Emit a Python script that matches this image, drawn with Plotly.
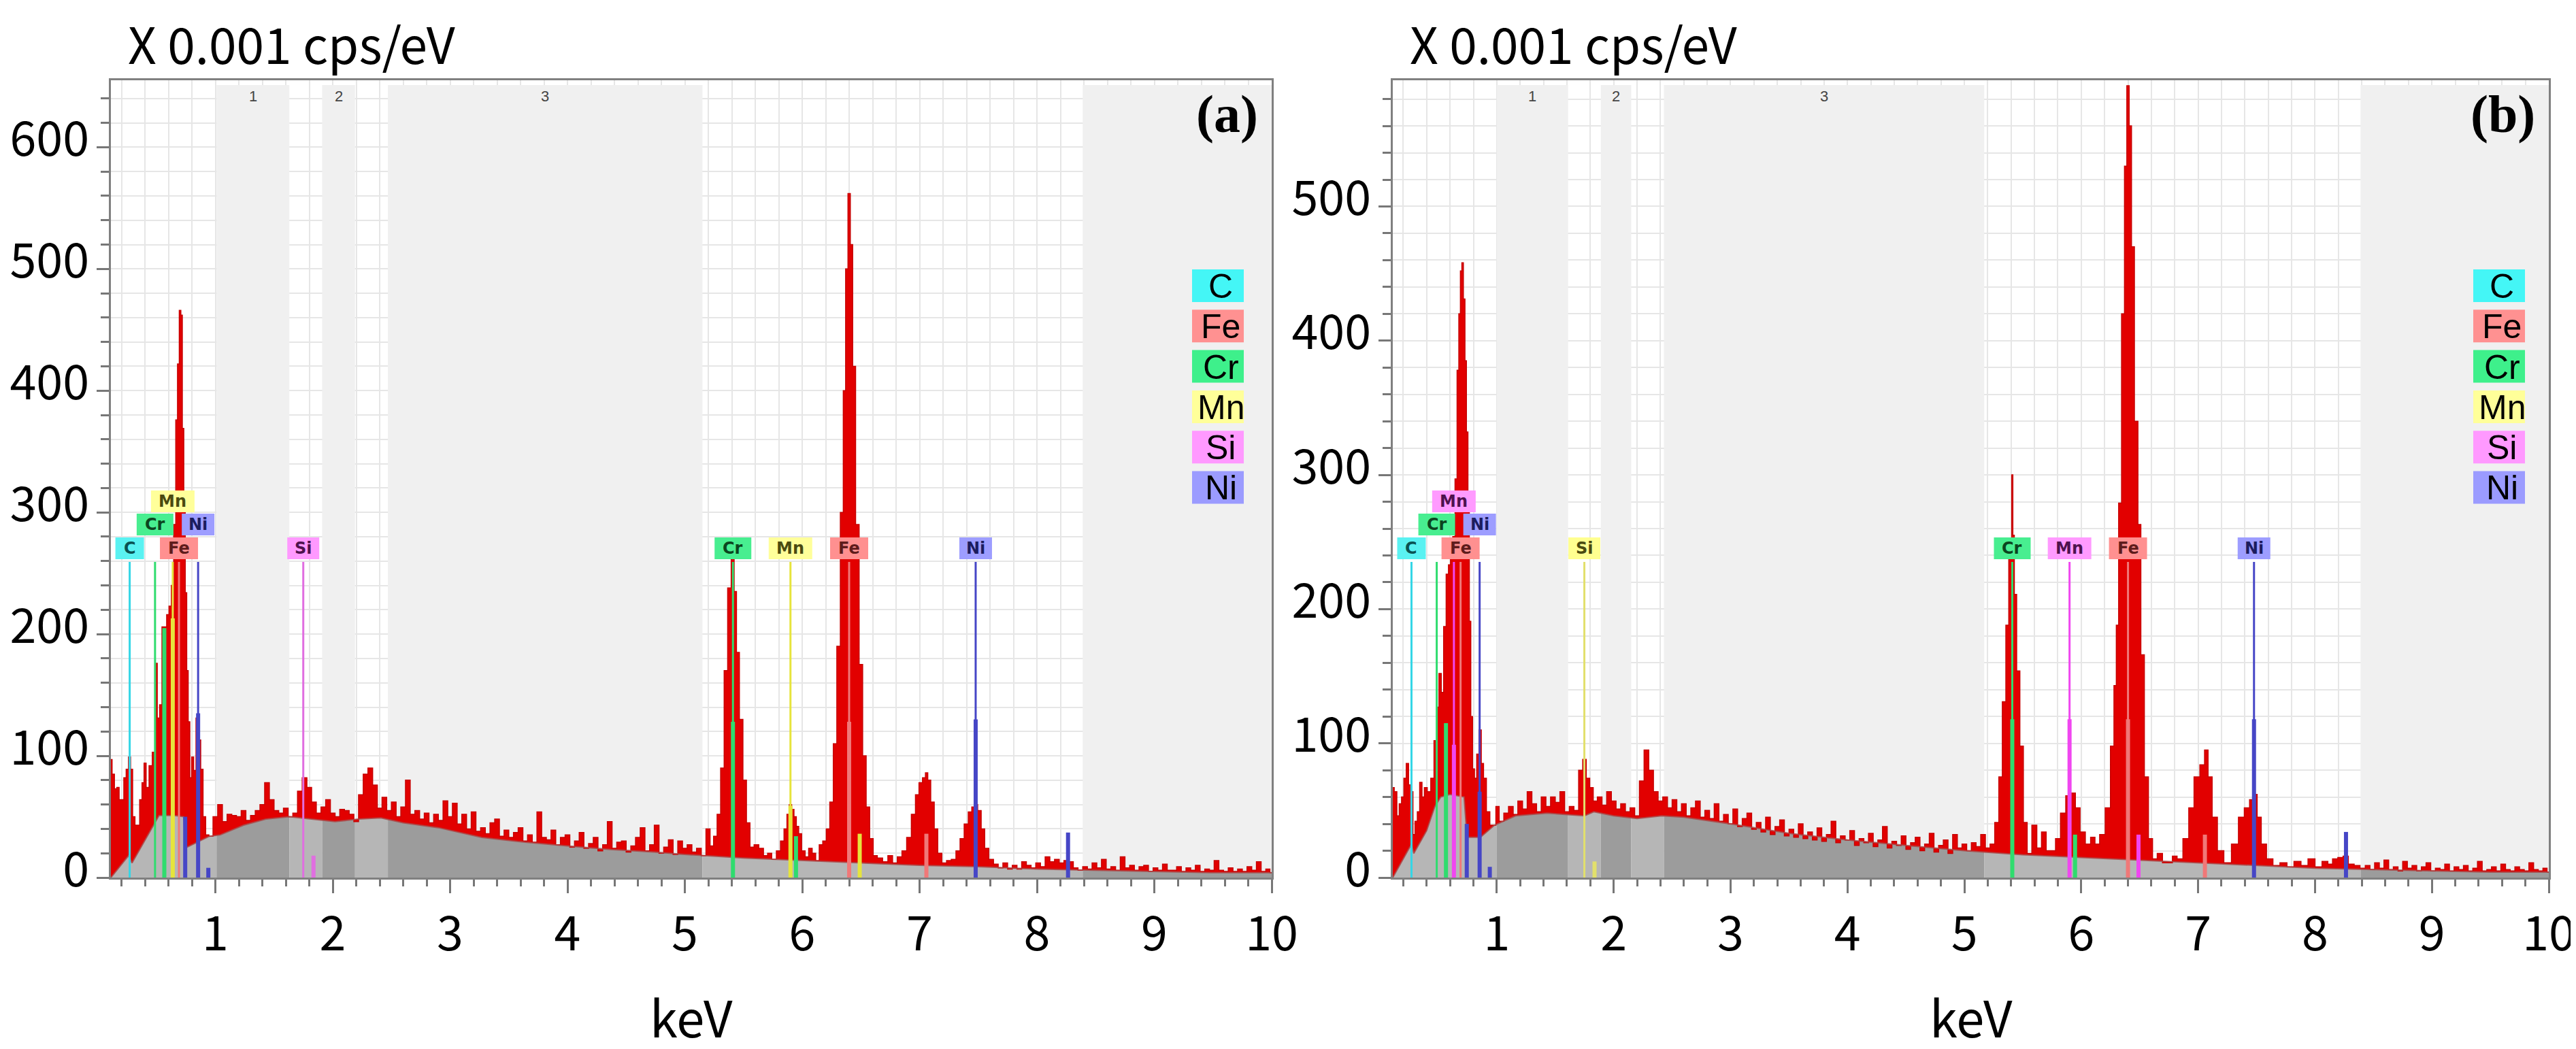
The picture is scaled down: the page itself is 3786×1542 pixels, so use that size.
import numpy as np
import plotly.graph_objects as go

W, H = 3786, 1542

# ---------------- data (keV, counts x0.001 cps/eV) ----------------
spectrum_a_low = [
    (0.11, 97), (0.13, 85), (0.15, 73), (0.17, 74), (0.19, 64), (0.21, 64), (0.23, 82), (0.25, 89),
    (0.27, 99), (0.285, 89), (0.305, 50), (0.325, 43), (0.345, 43), (0.365, 64), (0.385, 78), (0.40, 94),
    (0.42, 74), (0.45, 92), (0.475, 103), (0.495, 176), (0.515, 131), (0.535, 142), (0.555, 206),
    (0.575, 206), (0.595, 216), (0.615, 223), (0.635, 240), (0.655, 290), (0.67, 376), (0.685, 422),
    (0.70, 466), (0.712, 462), (0.725, 369), (0.737, 305), (0.75, 234), (0.762, 170), (0.775, 128),
    (0.79, 82), (0.805, 99), (0.825, 88), (0.845, 131), (0.865, 113), (0.885, 89), (0.905, 50),
    (0.93, 35), (0.96, 34)]
spectrum_a_mid = [
    (1.00, 50), (1.04, 60), (1.08, 46), (1.12, 52), (1.16, 51), (1.20, 50), (1.24, 55), (1.28, 47),
    (1.32, 51), (1.36, 55), (1.40, 60), (1.44, 78), (1.48, 64), (1.52, 55), (1.56, 53), (1.60, 57),
    (1.64, 50), (1.68, 53), (1.72, 71), (1.76, 82), (1.80, 74), (1.84, 62), (1.88, 53), (1.92, 58),
    (1.96, 64), (2.00, 53), (2.04, 50), (2.08, 56), (2.12, 55), (2.16, 52), (2.20, 46), (2.24, 68),
    (2.28, 85), (2.32, 90), (2.36, 76), (2.40, 57), (2.44, 66), (2.48, 55), (2.52, 62), (2.56, 50),
    (2.60, 58), (2.64, 80), (2.68, 52), (2.72, 55), (2.76, 48), (2.80, 53), (2.84, 45), (2.88, 52),
    (2.92, 47), (2.96, 63), (3.00, 50), (3.04, 61), (3.08, 44), (3.12, 52), (3.16, 40), (3.20, 54),
    (3.24, 38), (3.28, 41), (3.32, 36), (3.36, 45), (3.40, 48), (3.44, 34), (3.48, 39), (3.52, 33),
    (3.56, 37), (3.60, 41), (3.64, 30), (3.68, 35), (3.72, 29), (3.76, 54), (3.80, 33), (3.84, 31),
    (3.88, 39), (3.92, 27), (3.96, 33), (4.00, 35), (4.04, 25), (4.08, 30), (4.12, 37), (4.16, 24),
    (4.20, 28), (4.24, 33), (4.28, 22), (4.32, 27), (4.36, 46), (4.40, 24), (4.44, 29), (4.48, 30),
    (4.52, 21), (4.56, 26), (4.60, 33), (4.64, 41), (4.68, 22), (4.72, 27), (4.76, 43), (4.80, 20),
    (4.84, 25), (4.88, 31), (4.92, 19), (4.96, 30), (5.00, 24), (5.04, 27), (5.08, 21), (5.12, 24),
    (5.16, 18), (5.20, 40), (5.23, 26), (5.26, 34)]
spectrum_a_high = [
    (5.29, 52), (5.32, 90), (5.35, 170), (5.38, 238), (5.41, 263), (5.43, 235), (5.45, 185), (5.48, 130),
    (5.51, 80), (5.54, 45), (5.57, 25), (5.61, 27), (5.65, 24), (5.69, 18), (5.72, 20), (5.76, 15),
    (5.80, 22), (5.83, 30), (5.86, 40), (5.88, 52), (5.90, 60), (5.92, 56), (5.94, 50), (5.96, 42),
    (5.98, 36), (6.01, 22), (6.04, 17), (6.07, 24), (6.10, 20), (6.13, 14), (6.16, 27), (6.19, 30),
    (6.22, 40), (6.25, 62), (6.28, 110), (6.31, 190), (6.34, 300), (6.36, 400), (6.38, 500), (6.40, 562),
    (6.42, 520), (6.44, 420), (6.47, 290), (6.50, 175), (6.53, 100), (6.56, 58), (6.59, 32), (6.62, 18),
    (6.66, 16), (6.71, 13), (6.75, 18), (6.79, 12), (6.83, 17), (6.87, 22), (6.91, 33), (6.95, 52),
    (6.98, 68), (7.01, 78), (7.04, 82), (7.06, 86), (7.08, 80), (7.11, 62), (7.14, 40), (7.17, 20),
    (7.21, 12), (7.25, 14), (7.29, 15), (7.33, 22), (7.36, 32), (7.40, 44), (7.43, 54), (7.46, 58),
    (7.48, 60), (7.51, 55), (7.54, 40), (7.57, 24), (7.61, 15), (7.65, 11), (7.69, 8), (7.73, 12),
    (7.77, 7), (7.81, 10), (7.85, 7), (7.89, 13), (7.93, 10), (7.97, 8), (8.01, 12), (8.05, 9),
    (8.09, 17), (8.13, 13), (8.17, 15), (8.21, 12), (8.25, 14), (8.29, 13), (8.33, 8), (8.37, 6),
    (8.41, 9), (8.45, 7), (8.49, 12), (8.53, 8), (8.57, 15), (8.61, 7), (8.65, 9), (8.69, 6),
    (8.73, 17), (8.77, 8), (8.81, 10), (8.85, 6), (8.89, 9), (8.93, 10), (8.97, 5), (9.01, 8),
    (9.05, 6), (9.09, 11), (9.13, 6), (9.17, 6), (9.21, 9), (9.25, 5), (9.29, 8), (9.33, 6),
    (9.37, 10), (9.41, 5), (9.45, 7), (9.49, 6), (9.53, 14), (9.57, 6), (9.61, 5), (9.65, 8),
    (9.69, 5), (9.73, 7), (9.77, 5), (9.81, 9), (9.85, 6), (9.89, 13), (9.93, 5), (9.97, 7), (10.0, 4)]
background_a = [
    (0.11, 0), (0.26, 18), (0.29, 12), (0.36, 24), (0.45, 39), (0.52, 51), (0.65, 51), (0.73, 50),
    (0.745, 27), (0.76, 25), (0.95, 34), (1.04, 35), (1.24, 43), (1.43, 48), (1.63, 50), (1.82, 48),
    (2.02, 46), (2.22, 48), (2.41, 49), (2.60, 45), (2.90, 41), (3.27, 33), (3.64, 29), (4.00, 26),
    (4.37, 23), (4.74, 21), (5.00, 19), (5.50, 16), (6.00, 14), (6.50, 12), (7.00, 10), (7.50, 9),
    (8.00, 7), (8.50, 6), (9.00, 5), (9.50, 4), (10.0, 4)]

spectrum_b_low = [
    (0.11, 67), (0.135, 64), (0.155, 46), (0.175, 55), (0.195, 60), (0.215, 74), (0.235, 85), (0.255, 69),
    (0.275, 64), (0.29, 32), (0.31, 42), (0.33, 49), (0.35, 71), (0.37, 60), (0.39, 67), (0.42, 64),
    (0.45, 74), (0.475, 102), (0.495, 127), (0.515, 152), (0.535, 138), (0.555, 187), (0.578, 226),
    (0.595, 233), (0.613, 240), (0.633, 254), (0.652, 297), (0.668, 378), (0.682, 420), (0.695, 452),
    (0.707, 458), (0.721, 431), (0.734, 385), (0.746, 332), (0.76, 276), (0.77, 191), (0.785, 120),
    (0.80, 81), (0.818, 74), (0.838, 92), (0.857, 110), (0.877, 85), (0.896, 74), (0.926, 49),
    (0.955, 39), (0.984, 39)]
spectrum_b_mid = [
    (1.00, 53), (1.04, 42), (1.08, 48), (1.12, 53), (1.16, 47), (1.20, 57), (1.24, 51), (1.28, 64),
    (1.32, 55), (1.36, 49), (1.40, 60), (1.44, 53), (1.48, 60), (1.52, 56), (1.56, 64), (1.60, 49),
    (1.64, 53), (1.68, 50), (1.72, 80), (1.75, 88), (1.78, 74), (1.81, 67), (1.84, 57), (1.88, 60),
    (1.92, 54), (1.96, 64), (2.00, 57), (2.04, 51), (2.08, 55), (2.12, 49), (2.16, 52), (2.20, 46),
    (2.24, 72), (2.28, 95), (2.32, 80), (2.36, 64), (2.40, 57), (2.44, 60), (2.48, 52), (2.52, 58),
    (2.56, 49), (2.60, 55), (2.64, 46), (2.68, 52), (2.72, 57), (2.76, 45), (2.80, 50), (2.84, 44),
    (2.88, 55), (2.92, 42), (2.96, 47), (3.00, 40), (3.04, 51), (3.08, 38), (3.12, 44), (3.16, 48),
    (3.20, 36), (3.24, 41), (3.28, 34), (3.32, 45), (3.36, 32), (3.40, 38), (3.44, 43), (3.48, 31),
    (3.52, 36), (3.56, 30), (3.60, 40), (3.64, 29), (3.68, 34), (3.72, 28), (3.76, 37), (3.80, 27),
    (3.84, 32), (3.88, 42), (3.92, 26), (3.96, 31), (4.00, 28), (4.04, 35), (4.08, 24), (4.12, 29),
    (4.16, 26), (4.20, 33), (4.24, 23), (4.28, 28), (4.32, 38), (4.36, 22), (4.40, 27), (4.44, 24),
    (4.48, 31), (4.52, 21), (4.56, 26), (4.60, 30), (4.64, 20), (4.68, 25), (4.72, 33), (4.76, 19),
    (4.80, 24), (4.84, 28), (4.88, 18), (4.92, 32), (4.96, 22), (5.00, 25), (5.04, 20), (5.08, 26),
    (5.12, 23), (5.16, 32), (5.20, 22), (5.24, 25), (5.28, 41)]
spectrum_b_high = [
    (5.31, 75), (5.34, 131), (5.37, 188), (5.39, 238), (5.40, 250), (5.41, 300), (5.42, 255), (5.435, 211),
    (5.46, 154), (5.49, 98), (5.52, 41), (5.555, 18), (5.60, 39), (5.64, 22), (5.68, 34), (5.72, 20),
    (5.76, 20), (5.80, 29), (5.845, 48), (5.89, 61), (5.93, 63), (5.97, 52), (6.01, 34), (6.06, 25),
    (6.10, 30), (6.135, 25), (6.18, 32), (6.23, 52), (6.27, 98), (6.29, 143), (6.31, 188), (6.33, 279),
    (6.36, 420), (6.38, 530), (6.40, 590), (6.42, 560), (6.44, 470), (6.47, 340), (6.50, 263), (6.52, 166),
    (6.56, 75), (6.59, 29), (6.63, 14), (6.67, 18), (6.72, 11), (6.76, 11), (6.80, 16), (6.84, 14),
    (6.90, 29), (6.94, 52), (6.99, 75), (7.04, 84), (7.07, 95), (7.10, 75), (7.14, 45), (7.19, 20),
    (7.25, 11), (7.32, 25), (7.37, 45), (7.42, 52), (7.46, 58), (7.49, 62), (7.52, 45), (7.56, 25),
    (7.61, 14), (7.67, 9), (7.73, 11), (7.79, 8), (7.85, 12), (7.91, 9), (7.97, 14), (8.03, 8),
    (8.09, 12), (8.13, 10), (8.17, 14), (8.22, 15), (8.26, 16), (8.31, 10), (8.36, 9), (8.41, 7),
    (8.45, 9), (8.49, 6), (8.53, 11), (8.57, 7), (8.61, 13), (8.65, 6), (8.69, 8), (8.73, 5),
    (8.77, 12), (8.81, 7), (8.85, 9), (8.89, 5), (8.93, 8), (8.97, 11), (9.01, 5), (9.05, 7),
    (9.09, 6), (9.13, 10), (9.17, 5), (9.21, 8), (9.25, 6), (9.29, 9), (9.33, 5), (9.37, 7),
    (9.41, 12), (9.45, 5), (9.49, 6), (9.53, 8), (9.57, 5), (9.61, 10), (9.65, 6), (9.69, 5),
    (9.73, 8), (9.77, 6), (9.81, 5), (9.85, 11), (9.89, 6), (9.93, 5), (9.97, 7), (10.0, 4)]
background_b = [
    (0.11, 0), (0.27, 25), (0.29, 18), (0.40, 35), (0.47, 53), (0.52, 60), (0.60, 62), (0.72, 60),
    (0.745, 30), (0.86, 30), (0.98, 39), (1.16, 46), (1.43, 48), (1.75, 46), (1.83, 49), (2.00, 46),
    (2.20, 44), (2.41, 46), (2.60, 45), (3.00, 40), (3.50, 33), (4.00, 28), (4.50, 24), (5.00, 20),
    (5.50, 17), (6.00, 15), (6.50, 13), (7.00, 11), (7.50, 9), (8.00, 7), (8.50, 6), (9.00, 5),
    (9.50, 4), (10.0, 4)]

x_tick_values = [1, 2, 3, 4, 5, 6, 7, 8, 9, 10]
y_tick_values_a = [0, 100, 200, 300, 400, 500, 600]
y_tick_values_b = [0, 100, 200, 300, 400, 500]

# ROI bands (keV) shown as light-grey columns, numbered 1..3
bands_a = [(1.01, 1.63), (1.91, 2.19), (2.47, 5.15), (8.39, 10.0)]
bands_b = [(1.00, 1.61), (1.89, 2.15), (2.43, 5.17), (8.39, 10.0)]

legend_elements = ["C", "Fe", "Cr", "Mn", "Si", "Ni"]

# identified lines: (element, energy keV, label row 0/1/2)
lines_a = [("C", 0.27, 0), ("Cr", 0.486, 1), ("Mn", 0.637, 2), ("Fe", 0.69, 0), ("Ni", 0.853, 1),
           ("Si", 1.749, 0), ("Cr", 5.41, 0), ("Mn", 5.90, 0), ("Fe", 6.40, 0), ("Ni", 7.478, 0)]
lines_b = [("C", 0.27, 0), ("Cr", 0.486, 1), ("Mn", 0.633, 2), ("Fe", 0.69, 0), ("Ni", 0.853, 1),
           ("Si", 1.749, 0), ("Cr", 5.41, 0), ("Mn", 5.90, 0), ("Fe", 6.40, 0), ("Ni", 7.478, 0)]
# intensity markers: (element, energy keV, height)
markers_a = [("Cr", 0.565, 205), ("Mn", 0.637, 213), ("Ni", 0.743, 50), ("Ni", 0.853, 135),
             ("Ni", 0.94, 8), ("Si", 1.836, 18), ("Cr", 5.41, 128), ("Cr", 5.947, 34),
             ("Mn", 5.90, 59), ("Mn", 6.49, 36), ("Fe", 6.40, 128), ("Fe", 7.058, 36),
             ("Ni", 7.478, 130), ("Ni", 8.265, 37)]
markers_b = [("Cr", 0.565, 115), ("Mn", 0.633, 99), ("Ni", 0.743, 40), ("Ni", 0.853, 64),
             ("Ni", 0.94, 8), ("Si", 1.836, 12), ("Cr", 5.41, 118), ("Cr", 5.947, 32),
             ("Mn", 5.90, 118), ("Mn", 6.49, 32), ("Fe", 6.40, 118), ("Fe", 7.058, 32),
             ("Ni", 7.478, 118), ("Ni", 8.265, 34)]

# ---------------- styles ----------------
TICKFONT = dict(family="Noto Sans CJK SC", size=70, color="#000000")
legend_fill = {"C": "#44f6f6", "Fe": "#ff9191", "Cr": "#3ef08b", "Mn": "#ffff99", "Si": "#ff99ff", "Ni": "#9b9bff"}
line_col_a = {"C": "#34d6e6", "Cr": "#2fdc6e", "Mn": "#e6e43c", "Fe": "#f07878", "Ni": "#4646c6", "Si": "#e06ee0"}
line_col_b = dict(line_col_a, Mn="#f046f0", Si="#e2e06c")
box_col_a = {"C": "#5af2f2", "Cr": "#48ee90", "Mn": "#ffff9a", "Fe": "#ff9090", "Ni": "#9d9dff", "Si": "#ff99ff"}
box_col_b = dict(box_col_a, Mn="#ff9aff", Si="#ffff90")
txt_col_a = {"C": "#0a5252", "Cr": "#0b4520", "Mn": "#4a4a10", "Fe": "#5e1c1c", "Ni": "#1c1c5e", "Si": "#4e124e"}
txt_col_b = dict(txt_col_a, Mn="#4e124e", Si="#4a4a10")
box_w_px = {"C": 42, "Cr": 54, "Mn": 64, "Fe": 56, "Ni": 48, "Si": 47}

Y_TOP, Y_BOT = 110, 1282
panels = [
    dict(tag="a", xa="x", ya="y", x0=155, x1=1861, ymax=655, spec=spectrum_a_low + spectrum_a_mid + spectrum_a_high,
         bg=background_a, bands=bands_a, lines=lines_a, markers=markers_a, yt=y_tick_values_a,
         lc=line_col_a, bc=box_col_a, tc=txt_col_a, leg_x=1744),
    dict(tag="b", xa="x2", ya="y2", x0=2039, x1=3738, ymax=594, spec=spectrum_b_low + spectrum_b_mid + spectrum_b_high,
         bg=background_b, bands=bands_b, lines=lines_b, markers=markers_b, yt=y_tick_values_b,
         lc=line_col_b, bc=box_col_b, tc=txt_col_b, leg_x=3627),
]
XR = (0.11, 10.0)

fig = go.Figure()
shapes, annos = [], []
layout_axes = {}

for i, P in enumerate(panels):
    xa, ya = P["xa"], P["ya"]
    xr_name = "xaxis" if i == 0 else "xaxis2"
    yr_name = "yaxis" if i == 0 else "yaxis2"
    ppk = (P["x1"] - P["x0"]) / (XR[1] - XR[0])          # px per keV
    ppu = (Y_BOT - Y_TOP) / P["ymax"]                      # px per count unit

    E = [p[0] for p in P["spec"]]
    C = [p[1] for p in P["spec"]]
    BE = np.array([p[0] for p in P["bg"]])
    BG = np.array([p[1] for p in P["bg"]])

    # background fill, lighter inside the white (non-ROI) stretches
    edges = [XR[0]]
    kinds = []
    cur = XR[0]
    for (s, e) in P["bands"]:
        if s > cur:
            edges.append(s); kinds.append("white")
        edges.append(min(e, XR[1])); kinds.append("band")
        cur = e
    if cur < XR[1]:
        edges.append(XR[1]); kinds.append("white")
    for k in range(len(kinds)):
        s, e = edges[k], edges[k + 1]
        pts = [s] + [x for x in BE if s < x < e] + [e]
        ys = np.interp(pts, BE, BG)
        fig.add_trace(go.Scatter(x=pts, y=ys, mode="none", fill="tozeroy",
                                 fillcolor="#b6b6b6" if kinds[k] == "white" else "#9c9c9c",
                                 xaxis=xa, yaxis=ya, hoverinfo="skip", showlegend=False))
    # reference background path, then spectrum filled down to it
    fig.add_trace(go.Scatter(x=BE, y=BG, mode="lines", line=dict(width=0, color="rgba(0,0,0,0)"),
                             xaxis=xa, yaxis=ya, hoverinfo="skip", showlegend=False))
    fig.add_trace(go.Scatter(x=E, y=C, mode="lines", line=dict(color="#c80000", width=1.5, shape="hvh"),
                             fill="tonexty", fillcolor="#e20000", xaxis=xa, yaxis=ya, showlegend=False))
    fig.add_trace(go.Scatter(x=BE, y=BG, mode="lines", line=dict(color="rgba(170,70,70,0.85)", width=2),
                             xaxis=xa, yaxis=ya, hoverinfo="skip", showlegend=False))

    # ROI bands
    top_val = P["ymax"] - 7 / ppu
    for (s, e) in P["bands"]:
        shapes.append(dict(type="rect", xref=xa, yref=ya, x0=s, x1=e, y0=0, y1=top_val,
                           fillcolor="#f0f0f0", line=dict(width=0), layer="between"))
    for n, (s, e) in enumerate(P["bands"][:3]):
        annos.append(dict(xref=xa, yref="paper", x=(s + e) / 2, y=1 - 133 / H, text=str(n + 1),
                          showarrow=False, font=dict(family="Liberation Sans", size=22, color="#444444"),
                          yanchor="middle"))

    # element marker lines
    line_top = 464 / ppu
    for el, en, row in P["lines"]:
        shapes.append(dict(type="line", xref=xa, yref=ya, x0=en, x1=en, y0=0, y1=line_top,
                           line=dict(color=P["lc"][el], width=3), layer="above"))
    for el, en, hgt in P["markers"]:
        shapes.append(dict(type="line", xref=xa, yref=ya, x0=en, x1=en, y0=0, y1=hgt,
                           line=dict(color=P["lc"][el], width=6), layer="above"))
    # element label boxes
    row_px = [484, 519, 553]
    for el, en, row in P["lines"]:
        cy = row_px[row] / ppu
        hw = box_w_px[el] / 2 / ppk
        hh = 16 / ppu
        shapes.append(dict(type="rect", xref=xa, yref=ya, x0=en - hw, x1=en + hw, y0=cy - hh, y1=cy + hh,
                           fillcolor=P["bc"][el], line=dict(width=0), layer="above"))
        annos.append(dict(xref=xa, yref=ya, x=en, y=cy, text=el, showarrow=False,
                          font=dict(family="DejaVu Sans", size=24, color=P["tc"][el], weight="bold"),
                          xanchor="center", yanchor="middle"))

    # legend on the right
    for k, el in enumerate(legend_elements):
        ytop = 388 + k * 59.3
        shapes.append(dict(type="rect", xref="paper", yref="paper", x0=P["leg_x"] / W, x1=(P["leg_x"] + 76) / W,
                           y0=1 - (ytop + 48) / H, y1=1 - ytop / H, fillcolor=legend_fill[el],
                           line=dict(width=0), layer="above"))
        annos.append(dict(xref="paper", yref="paper", x=(P["leg_x"] + 42) / W, y=1 - (ytop + 25) / H, text=el,
                          showarrow=False, font=dict(family="Liberation Sans", size=50, color="#000000"),
                          xanchor="center", yanchor="middle"))

    # titles and panel letters
    annos.append(dict(xref="paper", yref="paper", x=(P["x0"] + 24) / W, y=1.0, text="X 0.001 cps/eV",
                      showarrow=False, xanchor="left", yanchor="top", borderpad=0,
                      font=dict(family="Noto Sans CJK SC", size=73, color="#000000")))
    annos.append(dict(xref="paper", yref="paper", x=(P["x0"] + P["x1"]) / 2 / W, y=1 - 1484 / H, text="keV",
                      showarrow=False, xanchor="center", yanchor="middle",
                      font=dict(family="Noto Sans CJK SC", size=74, color="#000000")))
    annos.append(dict(xref="paper", yref="paper", x=(P["x1"] - 18) / W, y=1 - 160 / H, text="(" + P["tag"] + ")",
                      showarrow=False, xanchor="right", yanchor="middle",
                      font=dict(family="Liberation Serif", size=78, color="#000000", weight="bold")))

    grid = dict(showgrid=True, gridcolor="#e6e6e6", gridwidth=2)
    layout_axes[xr_name] = dict(
        domain=[P["x0"] / W, P["x1"] / W], range=list(XR), anchor=ya,
        tickmode="array", tickvals=x_tick_values, ticks="outside", ticklen=20, tickwidth=3, tickcolor="#777777",
        tickfont=TICKFONT, ticklabelstandoff=0,
        showline=True, linecolor="#808080", linewidth=3, mirror=True, zeroline=False,
        minor=dict(dtick=0.2, tick0=0, ticks="outside", ticklen=10, tickwidth=3, tickcolor="#777777",
                   showgrid=True, gridcolor="#e6e6e6", gridwidth=2),
        automargin=False, **grid)
    layout_axes[yr_name] = dict(
        domain=[1 - Y_BOT / H, 1 - Y_TOP / H], range=[0, P["ymax"]], anchor=xa,
        tickmode="array", tickvals=P["yt"], ticks="outside", ticklen=18, tickwidth=3, tickcolor="#777777",
        tickfont=TICKFONT, ticklabelstandoff=-3, ticklabelshift=-12,
        showline=True, linecolor="#808080", linewidth=3, mirror=True, zeroline=False,
        minor=dict(dtick=20, tick0=0, ticks="outside", ticklen=12, tickwidth=3, tickcolor="#777777",
                   showgrid=True, gridcolor="#e6e6e6", gridwidth=2),
        automargin=False, **grid)

fig.update_layout(width=W, height=H, margin=dict(l=0, r=0, t=0, b=0),
                  paper_bgcolor="#ffffff", plot_bgcolor="#ffffff", showlegend=False,
                  shapes=shapes, annotations=annos, **layout_axes)
fig.write_html("out.html")
